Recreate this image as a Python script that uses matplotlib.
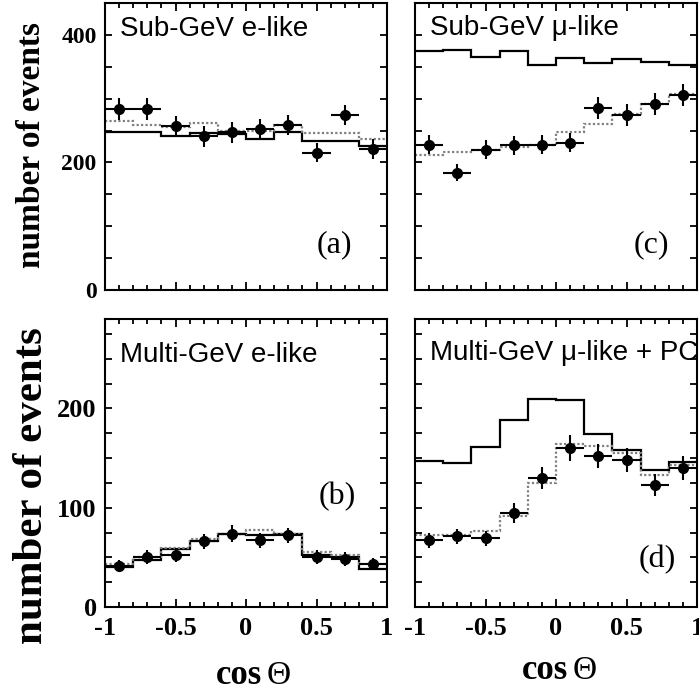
import numpy as np
import matplotlib
matplotlib.use('Agg')
import matplotlib.pyplot as plt
from matplotlib.ticker import MultipleLocator, FixedLocator, FixedFormatter

# zenith angle bins
bin_edges = [-1.0, -0.8, -0.6, -0.4, -0.2, 0.0, 0.2, 0.4, 0.6, 0.8, 1.0]
bin_centers = [-0.9, -0.7, -0.5, -0.3, -0.1, 0.1, 0.3, 0.5, 0.7, 0.9]
x_tick_vals = [-1, -0.5, 0, 0.5, 1]
x_tick_labels = ['-1', '-0.5', '0', '0.5', '1']

# (a) Sub-GeV e-like
sub_e_data = [284, 284, 257, 241, 247, 252, 259, 215, 274, 221]
sub_e_err = [17, 17, 16, 16, 16, 16, 16, 15, 16, 15]
sub_e_noosc = [248, 248, 241, 246, 245, 237, 248, 234, 234, 226]
sub_e_osc = [265, 259, 255, 262, 250, 250, 259, 246, 246, 237]

# (c) Sub-GeV mu-like
sub_mu_data = [228, 184, 220, 227, 228, 231, 285, 274, 292, 306]
sub_mu_err = [15, 13, 15, 15, 15, 15, 17, 17, 17, 17]
sub_mu_noosc = [374, 376, 366, 374, 353, 363, 356, 362, 358, 353]
sub_mu_osc = [212, 217, 220, 225, 227, 247, 261, 276, 291, 307]

# (b) Multi-GeV e-like
multi_e_data = [41, 50, 52, 66, 74, 67, 72, 50, 48, 43]
multi_e_err = [6, 7, 7, 8, 9, 8, 8, 7, 7, 6]
multi_e_noosc = [40, 47, 58, 66, 74, 72, 74, 52, 50, 38]
multi_e_osc = [43, 50, 59, 68, 74, 78, 74, 55, 52, 43]

# (d) Multi-GeV mu-like + PC
multi_mu_data = [67, 71, 69, 95, 130, 160, 152, 148, 123, 140]
multi_mu_err = [8, 8, 8, 10, 11, 13, 12, 12, 11, 12]
multi_mu_noosc = [147, 145, 161, 188, 209, 208, 174, 158, 138, 146]
multi_mu_osc = [72, 73, 77, 92, 125, 164, 162, 155, 133, 143]

serif = 'Liberation Serif'
sans = 'Liberation Sans'

fig = plt.figure(figsize=(6.99, 6.96), dpi=100)
W, H = 699.0, 696.0


def make_axes(left, top, right, bottom):
    return fig.add_axes([left / W, 1 - bottom / H, (right - left) / W, (bottom - top) / H])


ax_a = make_axes(105, 3, 387, 290)
ax_c = make_axes(415, 3, 697, 290)
ax_b = make_axes(105, 319, 387, 607)
ax_d = make_axes(415, 319, 697, 607)

panels = [
    (ax_a, sub_e_data, sub_e_err, sub_e_noosc, sub_e_osc, 'Sub-GeV e-like', '(a)', 0.885, (0.812, 0.157), 'top', True),
    (ax_c, sub_mu_data, sub_mu_err, sub_mu_noosc, sub_mu_osc, 'Sub-GeV \u03bc-like', '(c)', 0.888, (0.837, 0.157), 'top', False),
    (ax_b, multi_e_data, multi_e_err, multi_e_noosc, multi_e_osc, 'Multi-GeV e-like', '(b)', 0.851, (0.823, 0.385), 'bottom', True),
    (ax_d, multi_mu_data, multi_mu_err, multi_mu_noosc, multi_mu_osc, 'Multi-GeV \u03bc-like + PC', '(d)', 0.858, (0.858, 0.163), 'bottom', False),
]

for ax, data, err, noosc, osc, title, tag, ty, tagpos, row, left in panels:
    ax.stairs(noosc, bin_edges, baseline=None, color='black', lw=1.6)
    ax.stairs(osc, bin_edges, baseline=None, color='0.5', lw=1.6, linestyle=(0, (1, 1)))
    ax.errorbar(bin_centers, data, yerr=err, xerr=0.1, fmt='o', color='black',
                ms=7, elinewidth=1.5, capsize=0)
    ax.set_xlim(-1, 1)
    ax.xaxis.set_major_locator(FixedLocator(x_tick_vals))
    ax.xaxis.set_minor_locator(MultipleLocator(0.1))
    if row == 'top':
        ax.set_ylim(0, 450)
        ax.yaxis.set_major_locator(FixedLocator([0, 200, 400]))
        ax.yaxis.set_minor_locator(MultipleLocator(50))
        ax.tick_params(axis='x', labelbottom=False)
        ysize = 17
    else:
        ax.set_ylim(0, 290)
        ax.yaxis.set_major_locator(FixedLocator([0, 100, 200]))
        ax.yaxis.set_minor_locator(MultipleLocator(25))
        ax.xaxis.set_major_formatter(FixedFormatter(x_tick_labels))
        ysize = 19
    ax.tick_params(which='both', direction='in', top=True, right=True, width=1.3)
    ax.tick_params(axis='x', which='major', length=6)
    ax.tick_params(axis='x', which='minor', length=3.5)
    ax.tick_params(axis='y', which='both', length=5)
    ax.tick_params(axis='x', pad=7)
    ax.tick_params(axis='y', pad=6)
    if not left:
        ax.tick_params(axis='y', labelleft=False)
    for lab in ax.get_xticklabels() + ax.get_yticklabels():
        lab.set_fontfamily(serif)
        lab.set_fontweight('bold')
        lab.set_fontsize(ysize)
    for sp in ax.spines.values():
        sp.set_linewidth(1.5)
    ax.text(0.053, ty, title, transform=ax.transAxes, fontfamily=sans,
            fontsize=20, ha='left', va='baseline')
    ax.text(tagpos[0], tagpos[1], tag, transform=ax.transAxes, fontfamily=serif,
            fontsize=23, ha='center', va='center')

# shared axis labels
fig.text(31 / W, 1 - 145 / H, 'number of events', rotation=90, fontfamily=serif,
         fontweight='bold', fontsize=24, ha='center', va='center')
fig.text(32 / W, 1 - 486 / H, 'number of events', rotation=90, fontfamily=serif,
         fontweight='bold', fontsize=31, ha='center', va='center')
for x_cos, y_cos in [(262, 684), (568, 679)]:
    fig.text(x_cos / W, 1 - y_cos / H, 'cos', fontfamily=serif, fontweight='bold',
             fontsize=25, ha='right', va='baseline')
    fig.text((x_cos + 5) / W, 1 - y_cos / H, '\u0398', fontfamily=serif,
             fontsize=24, ha='left', va='baseline')

fig.savefig('out.png', dpi=100, facecolor='white')
